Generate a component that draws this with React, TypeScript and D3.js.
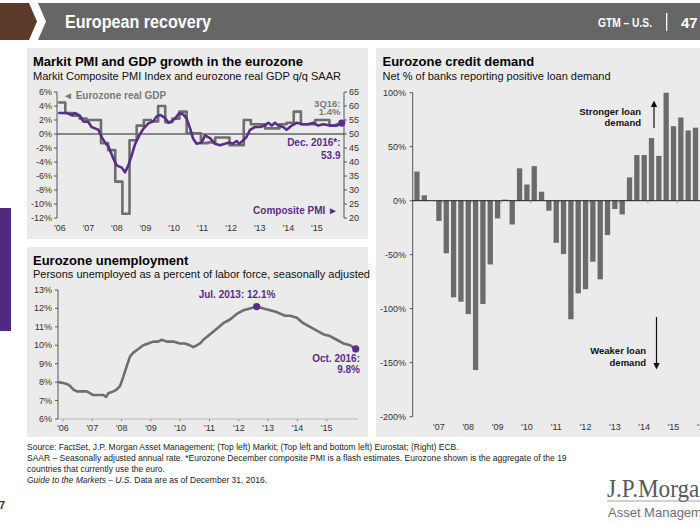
import React from "react";
import * as d3 from "d3";

const FF = "'Liberation Sans', Arial, Helvetica, sans-serif";
const PURPLE = "#5a2d88";
const GRAY_LINE = "#6e6e6e";
const GRAY_TEXT = "#7a7a7a";
const PANEL = "#ebebeb";
const AXIS = "#555";

// ---------- Top-left: Markit PMI and GDP ----------
const topYearTicks = [2006, 2007, 2008, 2009, 2010, 2011, 2012, 2013, 2014, 2015];
const topYearLabels = ["'06", "'07", "'08", "'09", "'10", "'11", "'12", "'13", "'14", "'15"];
const gdpStart = 2005.94; // start of the first quarterly step
const gdpValues = [
  4.5, 3.0, 2.6, 2.2, 2.0, 2.0, -1.3, -2.3, -6.8, -11.4,
  -0.9, 1.2, 2.0, 1.8, 4.0, 1.7, 2.2, 3.2, 0.1, 0.1,
  -1.3, -1.2, -0.5, -0.5, -1.6, -1.6, 2.0, 1.4, 1.4, 0.8,
  0.8, 1.4, 1.6, 3.2, 1.4, 1.4, 2.0, 2.0, 1.2, 1.4,
];
const pmiTimes = [
  2005.98, 2006.24, 2006.41, 2006.53, 2006.71, 2006.82, 2007.0, 2007.11, 2007.23, 2007.35,
  2007.47, 2007.58, 2007.7, 2007.87, 2007.99, 2008.17, 2008.28, 2008.4, 2008.52, 2008.63,
  2008.81, 2008.92, 2009.1, 2009.27, 2009.39, 2009.51, 2009.68, 2009.8, 2009.92, 2010.03,
  2010.18, 2010.32, 2010.44, 2010.56, 2010.66, 2010.79, 2010.97, 2011.08, 2011.26, 2011.43,
  2011.61, 2011.78, 2011.93, 2012.05, 2012.19, 2012.28, 2012.4, 2012.54, 2012.66, 2012.83,
  2013.01, 2013.18, 2013.3, 2013.42, 2013.53, 2013.65, 2013.82, 2013.94, 2014.12, 2014.29,
  2014.52, 2014.7, 2014.87, 2015.05, 2015.22, 2015.46, 2015.69, 2015.87,
];
const pmiValues = [
  57.5, 57.5, 56.8, 57.5, 56.5, 54.5, 54.3, 52.5, 52.0, 51.5,
  48.8, 47.0, 45.5, 41.3, 38.8, 38.0, 36.3, 38.8, 42.5, 46.3,
  50.0, 51.8, 53.8, 54.5, 56.3, 56.8, 55.8, 54.0, 54.5, 55.5,
  57.5, 57.0, 55.5, 52.0, 48.5, 46.5, 47.0, 49.5, 48.5, 46.5,
  46.0, 46.5, 47.0, 46.5, 47.5, 46.5, 47.5, 49.0, 51.5, 52.5,
  52.5, 53.0, 54.0, 53.0, 54.0, 53.0, 52.5, 51.5, 53.0, 54.0,
  53.5, 53.5, 54.0, 53.0, 53.5, 53.0, 53.0, 53.9,
];
const gdpTicks = [-12, -10, -8, -6, -4, -2, 0, 2, 4, 6];
const pmiTicks = [20, 25, 30, 35, 40, 45, 50, 55, 60, 65];

// ---------- Bottom-left: unemployment ----------
const unempYearTicks = [2006, 2007, 2008, 2009, 2010, 2011, 2012, 2013, 2014, 2015];
const unempYearLabels = ["'06", "'07", "'08", "'09", "'10", "'11", "'12", "'13", "'14", "'15"];
const unempTimes = [
  2005.84, 2006.01, 2006.13, 2006.24, 2006.35, 2006.47, 2006.64, 2006.81, 2006.92, 2007.03,
  2007.2, 2007.38, 2007.47, 2007.55, 2007.72, 2007.83, 2007.95, 2008.06, 2008.18, 2008.29,
  2008.4, 2008.57, 2008.74, 2008.91, 2009.08, 2009.25, 2009.37, 2009.54, 2009.76, 2009.99,
  2010.16, 2010.33, 2010.45, 2010.56, 2010.68, 2010.79, 2011.02, 2011.25, 2011.47, 2011.7,
  2011.93, 2012.15, 2012.38, 2012.61, 2012.84, 2013.07, 2013.29, 2013.58, 2013.75, 2013.98,
  2014.2, 2014.43, 2014.66, 2014.88, 2015.11, 2015.34, 2015.57, 2015.8, 2015.99,
];
const unempValues = [
  8.0, 7.95, 7.9, 7.8, 7.6, 7.5, 7.5, 7.5, 7.4, 7.3,
  7.3, 7.3, 7.2, 7.4, 7.5, 7.6, 7.8, 8.3, 8.9, 9.4,
  9.6, 9.8, 10.0, 10.1, 10.2, 10.2, 10.3, 10.2, 10.2, 10.1,
  10.1, 10.0, 9.9, 10.0, 10.1, 10.3, 10.6, 10.9, 11.2, 11.4,
  11.7, 11.9, 12.0, 12.1, 12.0, 11.9, 11.8, 11.6, 11.6, 11.5,
  11.2, 11.0, 10.8, 10.6, 10.5, 10.3, 10.1, 10.0, 9.8,
];
const unempTicks = [6, 7, 8, 9, 10, 11, 12, 13];
const unempPeakIndex = 43;

// ---------- Right: credit demand ----------
const creditQuarters = [
  "2Q06", "3Q06", "4Q06", "1Q07", "2Q07", "3Q07", "4Q07", "1Q08", "2Q08", "3Q08",
  "4Q08", "1Q09", "2Q09", "3Q09", "4Q09", "1Q10", "2Q10", "3Q10", "4Q10", "1Q11",
  "2Q11", "3Q11", "4Q11", "1Q12", "2Q12", "3Q12", "4Q12", "1Q13", "2Q13", "3Q13",
  "4Q13", "1Q14", "2Q14", "3Q14", "4Q14", "1Q15", "2Q15", "3Q15", "4Q15",
];
const creditValues = [
  27, 5, 0, -18.8, -48.7, -89.5, -93.5, -105, -156.8, -95.6,
  -59, -16.4, 1, -22, 30, 15, 32, 8.3, -9.3, -39,
  -49.4, -109.8, -85.8, -82, -56.5, -72.8, -31.8, -7.7, -12.7, 21.6,
  42.3, 42.3, 58, 41.5, 100, 69, 77, 65, 67.6,
];
const creditTicks = [-200, -150, -100, -50, 0, 50, 100];
const creditYearLabels = ["'07", "'08", "'09", "'10", "'11", "'12", "'13", "'14", "'15", "'16"];

const footLines = [
  "Source: FactSet, J.P. Morgan Asset Management; (Top left) Markit; (Top left and bottom left) Eurostat; (Right) ECB.",
  "SAAR – Seasonally adjusted annual rate. *Eurozone December composite PMI is a flash estimates. Eurozone shown is the aggregate of the 19",
  "countries that currently use the euro.",
];

export default function App() {
  // top-left scales
  const xT = d3.scaleLinear().domain([2005.9, 2015.95]).range([57, 344]);
  const yL = d3.scaleLinear().domain([-12, 6]).range([218, 92]);
  const yR = d3.scaleLinear().domain([20, 65]).range([218, 92]);
  const gdpPts: [number, number][] = gdpValues.map((v, i) => [gdpStart + 0.25 * i, v]);
  gdpPts.push([gdpStart + 0.25 * gdpValues.length, gdpValues[gdpValues.length - 1]]);
  const gdpPath = d3
    .line<[number, number]>()
    .x((d) => xT(d[0]))
    .y((d) => yL(d[1]))
    .curve(d3.curveStepAfter)(gdpPts) as string;
  const pmiPath = d3
    .line<number>()
    .x((_, i) => xT(pmiTimes[i]))
    .y((d) => yR(d))(pmiValues) as string;
  const pmiLastT = pmiTimes[pmiTimes.length - 1];
  const pmiLastV = pmiValues[pmiValues.length - 1];

  // bottom-left scales
  const xB = d3.scaleLinear().domain([2005.83, 2016.05]).range([58, 357.5]);
  const yB = d3.scaleLinear().domain([6, 13]).range([419, 290]);
  const unempPath = d3
    .line<number>()
    .x((_, i) => xB(unempTimes[i]))
    .y((d) => yB(d))(unempValues) as string;
  const uLast = unempValues.length - 1;

  // right scales
  const xC = d3.scaleBand<string>().domain(creditQuarters).range([412.83, 699.6]).paddingInner(0.277).paddingOuter(0.2);
  const yC = d3.scaleLinear().domain([-200, 100]).range([416.7, 92.7]);
  const cStep = xC.step();
  const cBw = xC.bandwidth();
  const c0 = xC(creditQuarters[0]) as number;

  const tick = { fontFamily: FF, fontSize: 9, fill: "#333" } as const;

  return (
    <svg
      width={700}
      height={525}
      viewBox="0 0 700 525"
      style={{ position: "absolute", left: 0, top: 0, display: "block", background: "#fff" }}
    >
      {/* header */}
      <polygon points="0,3 29,3 37,21.5 29,40 0,40" fill="#5e3a2b" />
      <polygon points="38,3 700,3 700,40 38,40 46,21.5" fill="#666666" />
      <text x={65} y={28} fontFamily={FF} fontSize={18} fontWeight="bold" fill="#fff" textLength={146} lengthAdjust="spacingAndGlyphs">
        European recovery
      </text>
      <text x={598} y={27} fontFamily={FF} fontSize={12} fontWeight="bold" fill="#fff" textLength={54} lengthAdjust="spacingAndGlyphs">
        GTM – U.S.
      </text>
      <rect x={666} y={13} width={1.3} height={18} fill="#fff" />
      <text x={681} y={28} fontFamily={FF} fontSize={15} fontWeight="bold" fill="#fff">
        47
      </text>

      {/* left purple marker */}
      <rect x={0} y={208} width={11} height={123} fill="#4f2a7f" />

      {/* panels */}
      <rect x={27} y={48} width={341} height={191} fill={PANEL} />
      <rect x={27} y={247} width={341} height={190} fill={PANEL} />
      <rect x={376} y={48} width={324} height={389} fill={PANEL} />

      {/* ===== Top-left ===== */}
      <text x={33} y={66} fontFamily={FF} fontSize={13} fontWeight="bold" fill="#000">
        Markit PMI and GDP growth in the eurozone
      </text>
      <text x={33} y={80} fontFamily={FF} fontSize={11} fill="#111">
        Markit Composite PMI Index and eurozone real GDP q/q SAAR
      </text>
      <line x1={57} x2={57} y1={yL(6)} y2={yL(-12)} stroke={AXIS} strokeWidth={1} />
      {gdpTicks.map((t) => (
        <g key={"gl" + t}>
          <line x1={54} x2={57} y1={yL(t)} y2={yL(t)} stroke={AXIS} strokeWidth={1} />
          <text x={52} y={yL(t) + 3} textAnchor="end" {...tick}>
            {t + "%"}
          </text>
        </g>
      ))}
      <line x1={344} x2={344} y1={yR(65)} y2={yR(20)} stroke={AXIS} strokeWidth={1} />
      {pmiTicks.map((t) => (
        <g key={"pr" + t}>
          <line x1={344} x2={347} y1={yR(t)} y2={yR(t)} stroke={AXIS} strokeWidth={1} />
          <text x={349} y={yR(t) + 3} {...tick}>
            {t}
          </text>
        </g>
      ))}
      {topYearTicks.map((t, i) => (
        <text key={"tx" + t} x={xT(t)} y={231} textAnchor="middle" {...tick}>
          {topYearLabels[i]}
        </text>
      ))}
      <line x1={57} x2={344} y1={yL(0)} y2={yL(0)} stroke="#222" strokeWidth={1} />
      <path d={gdpPath} fill="none" stroke={GRAY_LINE} strokeWidth={2.6} strokeLinejoin="round" />
      <path d={pmiPath} fill="none" stroke={PURPLE} strokeWidth={2.6} strokeLinejoin="round" strokeLinecap="round" />
      <circle cx={xT(pmiLastT)} cy={yR(pmiLastV)} r={3.6} fill={PURPLE} />
      <text x={63} y={98.5} fontFamily={FF} fontSize={10} fontWeight="bold" fill={GRAY_TEXT}>
        ◄ Eurozone real GDP
      </text>
      <text x={340.5} y={106.5} textAnchor="end" fontFamily={FF} fontSize={9.5} fontWeight="bold" fill={GRAY_TEXT}>
        3Q16:
      </text>
      <text x={340.5} y={115} textAnchor="end" fontFamily={FF} fontSize={9.5} fontWeight="bold" fill={GRAY_TEXT}>
        1.4%
      </text>
      <text x={340.5} y={146} textAnchor="end" fontFamily={FF} fontSize={10} fontWeight="bold" fill={PURPLE}>
        Dec. 2016*:
      </text>
      <text x={340.5} y={158.5} textAnchor="end" fontFamily={FF} fontSize={10} fontWeight="bold" fill={PURPLE}>
        53.9
      </text>
      <text x={338} y={213.5} textAnchor="end" fontFamily={FF} fontSize={10} fontWeight="bold" fill={PURPLE}>
        Composite PMI ►
      </text>

      {/* ===== Bottom-left ===== */}
      <text x={33} y={265} fontFamily={FF} fontSize={13} fontWeight="bold" fill="#000">
        Eurozone unemployment
      </text>
      <text x={33} y={278} fontFamily={FF} fontSize={11} fill="#111">
        Persons unemployed as a percent of labor force, seasonally adjusted
      </text>
      <line x1={58} x2={58} y1={yB(13)} y2={yB(6)} stroke={AXIS} strokeWidth={1} />
      {unempTicks.map((t) => (
        <g key={"ul" + t}>
          <line x1={55} x2={58} y1={yB(t)} y2={yB(t)} stroke={AXIS} strokeWidth={1} />
          <text x={52} y={yB(t) + 3} textAnchor="end" {...tick}>
            {t + "%"}
          </text>
        </g>
      ))}
      <line x1={58} x2={358} y1={yB(6)} y2={yB(6)} stroke="#999" strokeWidth={0.6} />
      {unempYearTicks.map((t, i) => (
        <g key={"ux" + t}>
          <line x1={xB(t)} x2={xB(t)} y1={yB(6)} y2={yB(6) + 2.5} stroke="#888" strokeWidth={0.8} />
          <text x={xB(t)} y={431} textAnchor="middle" {...tick}>
            {unempYearLabels[i]}
          </text>
        </g>
      ))}
      <path d={unempPath} fill="none" stroke={GRAY_LINE} strokeWidth={2.6} strokeLinejoin="round" />
      <circle cx={xB(unempTimes[unempPeakIndex])} cy={yB(unempValues[unempPeakIndex])} r={3.6} fill={PURPLE} />
      <circle cx={xB(unempTimes[uLast])} cy={yB(unempValues[uLast])} r={3.6} fill={PURPLE} />
      <text x={237} y={297.5} textAnchor="middle" fontFamily={FF} fontSize={10} fontWeight="bold" fill={PURPLE}>
        Jul. 2013: 12.1%
      </text>
      <text x={360} y={362} textAnchor="end" fontFamily={FF} fontSize={10} fontWeight="bold" fill={PURPLE}>
        Oct. 2016:
      </text>
      <text x={360} y={372.5} textAnchor="end" fontFamily={FF} fontSize={10} fontWeight="bold" fill={PURPLE}>
        9.8%
      </text>

      {/* ===== Right ===== */}
      <text x={382.5} y={66} fontFamily={FF} fontSize={13} fontWeight="bold" fill="#000">
        Eurozone credit demand
      </text>
      <text x={382.5} y={80} fontFamily={FF} fontSize={11} fill="#111">
        Net % of banks reporting positive loan demand
      </text>
      <line x1={412.7} x2={412.7} y1={yC(100)} y2={yC(-200)} stroke={AXIS} strokeWidth={1} />
      {creditTicks.map((t) => (
        <g key={"cl" + t}>
          <line x1={409.7} x2={412.7} y1={yC(t)} y2={yC(t)} stroke={AXIS} strokeWidth={1} />
          <text x={406} y={yC(t) + 3} textAnchor="end" {...tick}>
            {t + "%"}
          </text>
        </g>
      ))}
      {creditValues.map((v, i) => (
        <rect
          key={"b" + i}
          x={xC(creditQuarters[i]) as number}
          width={cBw}
          y={yC(Math.max(0, v))}
          height={Math.abs(yC(v) - yC(0))}
          fill="#6b6b6b"
        />
      ))}
      <line x1={412.7} x2={700} y1={yC(0)} y2={yC(0)} stroke="#222" strokeWidth={1} />
      {creditYearLabels.map((lab, k) => {
        const cx = c0 + cStep * (3 + 4 * k) + cBw / 2;
        const tx = c0 + cStep * (4 + 4 * k) - (cStep - cBw) / 2;
        return (
          <g key={"cx" + lab}>
            <line x1={tx} x2={tx} y1={yC(0)} y2={yC(0) + 2.5} stroke="#888" strokeWidth={0.8} />
            <text x={cx} y={430} textAnchor="middle" {...tick}>
              {lab}
            </text>
          </g>
        );
      })}
      <text x={641} y={115} textAnchor="end" fontFamily={FF} fontSize={9.5} fontWeight="bold" fill="#111">
        Stronger loan
      </text>
      <text x={641} y={126} textAnchor="end" fontFamily={FF} fontSize={9.5} fontWeight="bold" fill="#111">
        demand
      </text>
      <line x1={654} x2={654} y1={128} y2={106} stroke="#111" strokeWidth={1.2} />
      <polygon points="650.8,107 654,100.5 657.2,107" fill="#111" />
      <text x={646} y={353.5} textAnchor="end" fontFamily={FF} fontSize={9.5} fontWeight="bold" fill="#111">
        Weaker loan
      </text>
      <text x={646} y={366} textAnchor="end" fontFamily={FF} fontSize={9.5} fontWeight="bold" fill="#111">
        demand
      </text>
      <line x1={656.5} x2={656.5} y1={317} y2={364} stroke="#111" strokeWidth={1.2} />
      <polygon points="653.3,363 656.5,369.5 659.7,363" fill="#111" />

      {/* footer */}
      {footLines.map((l, i) => (
        <text key={"f" + i} x={27} y={450 + i * 11} fontFamily={FF} fontSize={8.5} fill="#222">
          {l}
        </text>
      ))}
      <text x={27} y={483} fontFamily={FF} fontSize={8.5} fill="#222">
        <tspan fontStyle="italic">Guide to the Markets – U.S.</tspan>
        <tspan> Data are as of December 31, 2016.</tspan>
      </text>
      <text x={-1} y={509} fontFamily={FF} fontSize={11} fontWeight="bold" fill="#333">
        7
      </text>
      <text x={607} y={497} fontFamily="'Liberation Serif', 'DejaVu Serif', serif" fontSize={25} fill="#58595b" textLength={104} lengthAdjust="spacingAndGlyphs">
        J.P.Morgan
      </text>
      <line x1={607} x2={700} y1={501} y2={501} stroke="#8a8a8a" strokeWidth={0.8} />
      <text x={608} y={517} fontFamily={FF} fontSize={13} fill="#6d6e71">
        Asset Management
      </text>
    </svg>
  );
}
